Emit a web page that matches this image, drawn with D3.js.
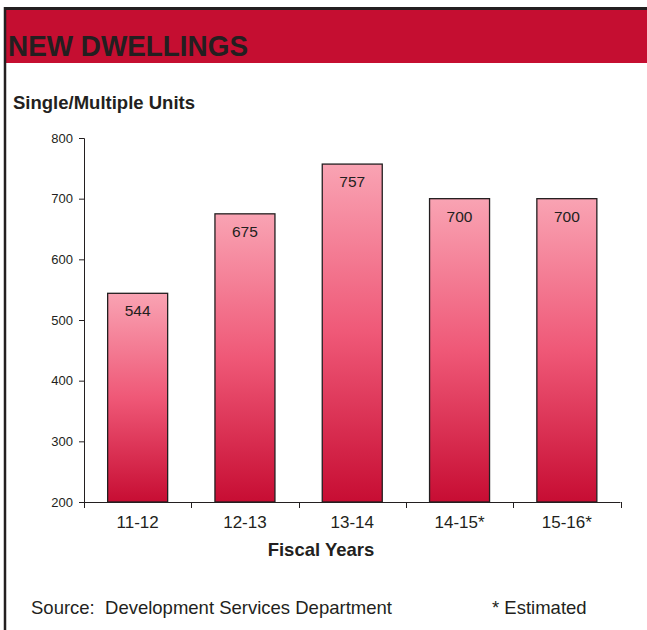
<!DOCTYPE html>
<html>
<head>
<meta charset="utf-8">
<script src="https://cdn.jsdelivr.net/npm/d3@7"></script>
<style>
  html, body { margin: 0; padding: 0; background: #fff; }
  svg { display: block; font-family: "Liberation Sans", Arial, sans-serif; }
</style>
</head>
<body>
<svg id="chart" width="647" height="630"></svg>
<script>
// Fiscal years and number of new dwelling units
const categories = ["11-12", "12-13", "13-14", "14-15*", "15-16*"];
const units = [544, 675, 757, 700, 700];
const yTicks = [200, 300, 400, 500, 600, 700, 800];

const ink = "#231f20";
const svg = d3.select("#chart");

// Gradient used by every bar: light pink at top to crimson at bottom
const defs = svg.append("defs");
const grad = defs.append("linearGradient")
  .attr("id", "barFill").attr("x1", 0).attr("y1", 0).attr("x2", 0).attr("y2", 1);
grad.append("stop").attr("offset", "0%").attr("stop-color", "#f9a3b3");
grad.append("stop").attr("offset", "50%").attr("stop-color", "#ef5877");
grad.append("stop").attr("offset", "100%").attr("stop-color", "#c70d33");

// Frame: top and left rules with the red title band
svg.append("rect").attr("x", 6).attr("y", 10).attr("width", 641).attr("height", 53).attr("fill", "#c50e31");
svg.append("line").attr("x1", 4).attr("x2", 647).attr("y1", 8.5).attr("y2", 8.5)
  .attr("stroke", ink).attr("stroke-width", 3);
svg.append("line").attr("x1", 5).attr("x2", 5).attr("y1", 7).attr("y2", 630)
  .attr("stroke", ink).attr("stroke-width", 2.5);

svg.append("text").attr("x", 8).attr("y", 56)
  .attr("font-size", 30).attr("font-weight", "bold").attr("fill", ink)
  .attr("textLength", 240).attr("lengthAdjust", "spacingAndGlyphs")
  .text("NEW DWELLINGS");

svg.append("text").attr("x", 13).attr("y", 109)
  .attr("font-size", 18).attr("font-weight", "bold").attr("fill", ink)
  .attr("textLength", 182).attr("lengthAdjust", "spacingAndGlyphs")
  .text("Single/Multiple Units");

// Scales
const x = d3.scaleBand().domain(categories).range([84, 620.5]).paddingInner(0).paddingOuter(0);
const y = d3.scaleLinear().domain([200, 800]).range([502, 138]);
const barW = 60;

// Y axis
const yAxis = svg.append("g").attr("transform", "translate(84,0)")
  .call(d3.axisLeft(y).tickValues(yTicks).tickSize(5).tickPadding(6));
yAxis.select(".domain").attr("stroke", ink).attr("d", "M-5,138.5H0.5V502");
yAxis.selectAll(".tick line").attr("stroke", ink);
yAxis.selectAll(".tick text").attr("fill", ink).attr("font-size", 13)
  .attr("font-family", "Liberation Sans, Arial, sans-serif");

// Bars
const bars = svg.append("g");
bars.selectAll("rect").data(categories).join("rect")
  .attr("x", d => x(d) + (x.bandwidth() - barW) / 2)
  .attr("y", (d, i) => y(units[i]))
  .attr("width", barW)
  .attr("height", (d, i) => y(200) - y(units[i]))
  .attr("fill", "url(#barFill)")
  .attr("stroke", ink).attr("stroke-width", 1.3);

bars.selectAll("text").data(categories).join("text")
  .attr("x", d => x(d) + x.bandwidth() / 2)
  .attr("y", (d, i) => y(units[i]) + 23)
  .attr("text-anchor", "middle").attr("font-size", 15.5).attr("fill", ink)
  .text((d, i) => units[i]);

// X axis with ticks on category boundaries
const xAxis = svg.append("g").attr("transform", "translate(0,502)");
xAxis.append("line").attr("x1", 84).attr("x2", 620.5).attr("y1", 0.5).attr("y2", 0.5).attr("stroke", ink);
const bounds = categories.map(c => x(c)).concat([x.range()[1]]);
xAxis.selectAll("line.tick").data(bounds).join("line").attr("class", "tick")
  .attr("x1", d => Math.round(d) + 0.5).attr("x2", d => Math.round(d) + 0.5)
  .attr("y1", 0).attr("y2", 6).attr("stroke", ink);
xAxis.selectAll("text").data(categories).join("text")
  .attr("x", d => x(d) + x.bandwidth() / 2).attr("y", 26)
  .attr("text-anchor", "middle").attr("font-size", 17).attr("fill", ink)
  .text(d => d);

svg.append("text").attr("x", 321).attr("y", 556)
  .attr("text-anchor", "middle").attr("font-size", 18.5).attr("font-weight", "bold").attr("fill", ink)
  .text("Fiscal Years");

// Footer notes
svg.append("text").attr("x", 31).attr("y", 614)
  .attr("font-size", 18.5).attr("fill", ink)
  .attr("xml:space", "preserve").style("white-space", "pre")
  .text("Source:  Development Services Department");
svg.append("text").attr("x", 492).attr("y", 614)
  .attr("font-size", 18.5).attr("fill", ink)
  .text("* Estimated");
</script>
</body>
</html>
